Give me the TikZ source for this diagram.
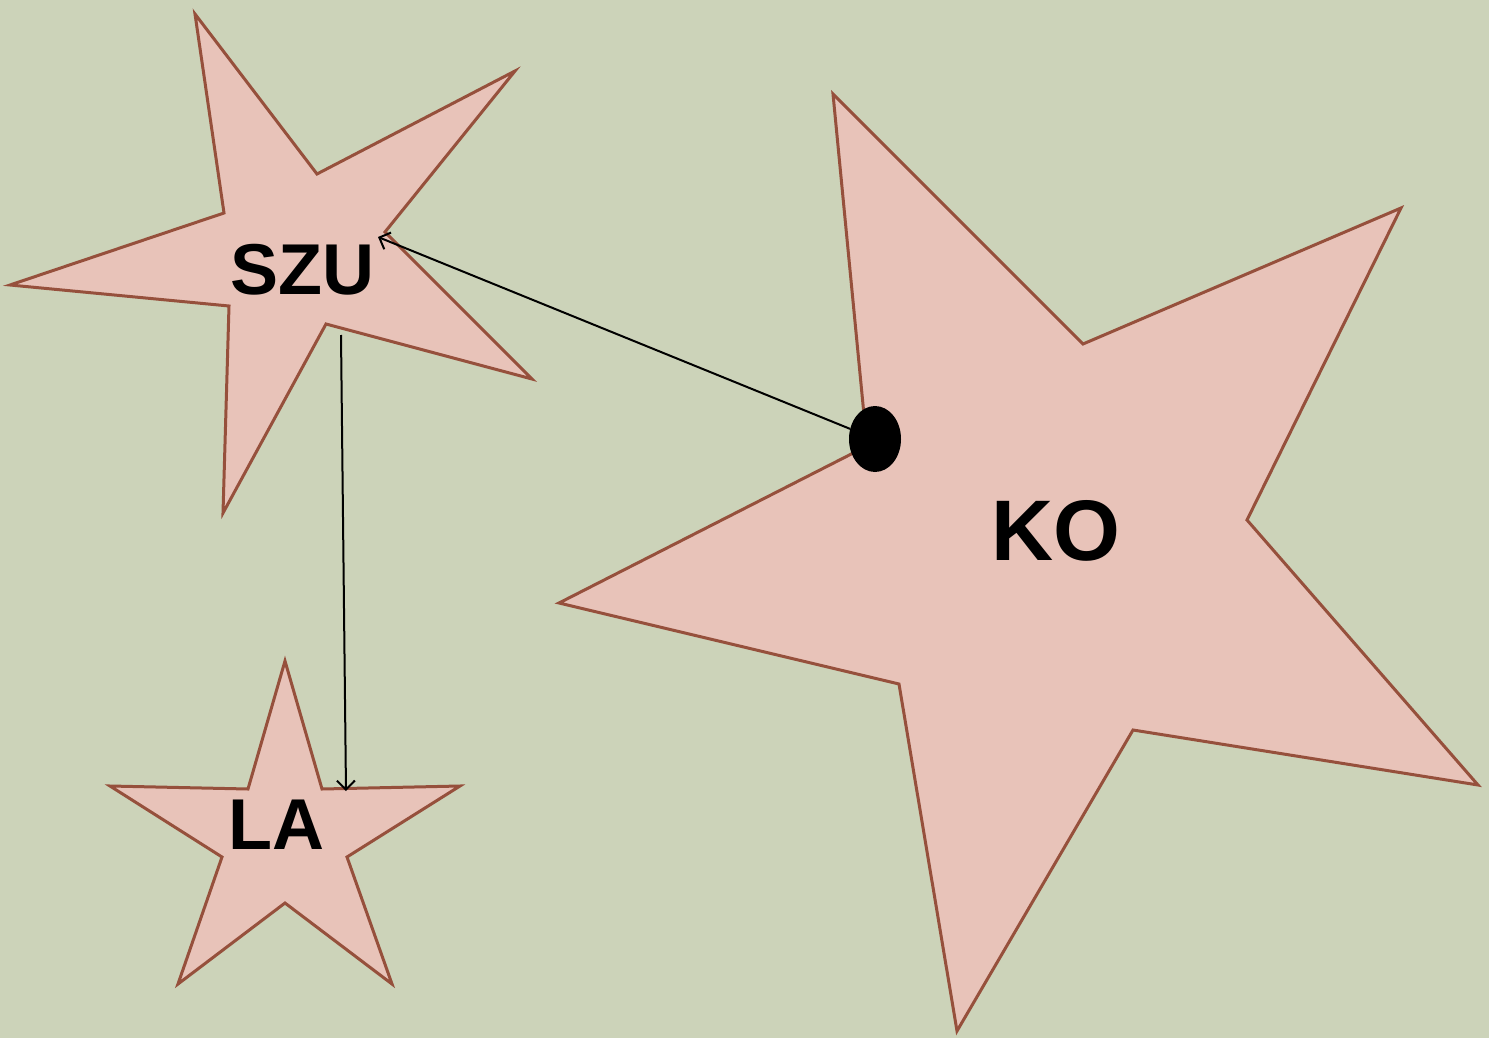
\documentclass[tikz,border=0pt]{standalone}
\usepackage{fontspec}
\setmainfont{Liberation Sans}
\usetikzlibrary{arrows.meta,shapes.geometric}
\definecolor{bgc}{HTML}{CCD3B9}
\definecolor{starfill}{HTML}{E8C3B9}
\definecolor{stardraw}{HTML}{96503C}
\begin{document}
\begin{tikzpicture}[x=1pt,y=-1pt,
  starshape/.style={fill=starfill,draw=stardraw,line width=3pt,line join=miter},
  lbl/.style={font=\bfseries\fontsize{72}{80}\selectfont,inner sep=0pt},
  conn/.style={draw=black,line width=2pt,-{Straight Barb[length=9pt,width=18pt,line width=2pt]}}]
\fill[bgc] (0,0) rectangle (1489,1038);
\useasboundingbox (0,0) rectangle (1489,1038);
% SZU star
\draw[starshape] (195,14) -- (317,174) -- (515,71) -- (385,232) -- (532,379) -- (326,324) -- (223,513) -- (229,306) -- (10,285) -- (224,213) -- cycle;
% KO star
\draw[starshape] (833,94) -- (1083,344) -- (1401,208) -- (1247,520) -- (1478,785) -- (1133,730) -- (957,1031) -- (899,684) -- (559,603) -- (867,446) -- cycle;
% LA star
\draw[starshape] (285,661) -- (322,789) -- (460,786) -- (347,857) -- (392,984) -- (285,903) -- (178,984) -- (222,857) -- (110,786) -- (248,789) -- cycle;
\node[lbl] (szu) at (302,270) {SZU};
\node[lbl,font=\bfseries\fontsize{86}{94}\selectfont] (ko) at (1056,531) {KO};
\node[lbl] (la) at (276,825) {LA};
\node[fill=black,ellipse,minimum width=52pt,minimum height=66pt,inner sep=0pt] (dot) at (875,439) {};
\coordinate (szutip) at (378,237);
\coordinate (szubot) at (341,335);
\coordinate (latip) at (346,791);
\draw[conn] (dot) -- (szutip);
\draw[conn] (szubot) -- (latip);
\end{tikzpicture}
\end{document}
